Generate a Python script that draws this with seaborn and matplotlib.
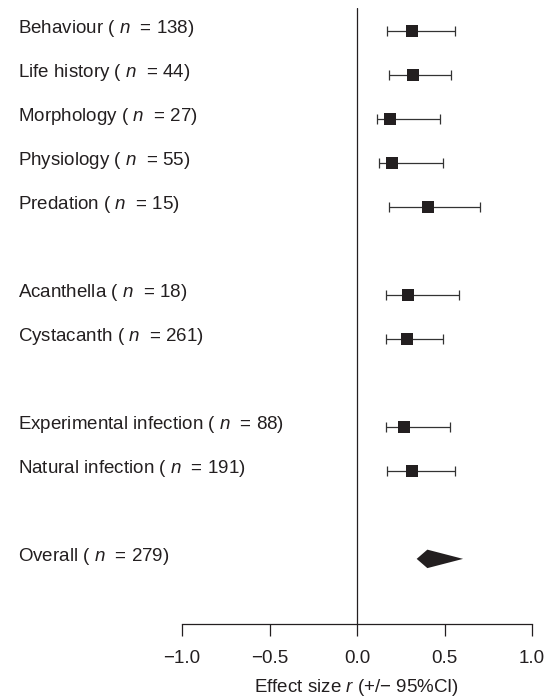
import numpy as np
import pandas as pd
import matplotlib
matplotlib.use("Agg")
import matplotlib.pyplot as plt
import seaborn as sns
from matplotlib.transforms import blended_transform_factory

# moderator levels, grouped (trait type / parasite stage / infection type)
names = ["Behaviour", "Life history", "Morphology", "Physiology", "Predation",
         "Acanthella", "Cystacanth",
         "Experimental infection", "Natural infection"]
group = [0, 0, 0, 0, 0, 1, 1, 2, 2]
n_obs = [138, 44, 27, 55, 15, 18, 261, 88, 191]
effect = [0.316, 0.322, 0.190, 0.202, 0.408, 0.293, 0.288, 0.270, 0.316]
ci_low = [0.171, 0.183, 0.112, 0.124, 0.183, 0.164, 0.164, 0.164, 0.171]
ci_high = [0.558, 0.535, 0.474, 0.491, 0.703, 0.585, 0.491, 0.530, 0.558]

overall_n = 279
overall_effect = 0.402
overall_low = 0.341
overall_high = 0.606

xticks = [-1.0, -0.5, 0.0, 0.5, 1.0]
xtick_labels = ["\u22121.0", "\u22120.5", "0.0", "0.5", "1.0"]

sns.set_theme(style="white")
plt.rcParams["font.family"] = ["Liberation Sans", "DejaVu Sans"]
plt.rcParams["mathtext.fontset"] = "custom"
plt.rcParams["mathtext.rm"] = "Liberation Sans"
plt.rcParams["mathtext.it"] = "Liberation Sans:italic"

ink = "#231f20"
fs = 13.5

df = pd.DataFrame({"name": names, "group": group, "n": n_obs,
                   "effect": effect, "lo": ci_low, "hi": ci_high})
# one empty row between groups
df["row"] = np.arange(len(df)) + df["group"]
overall_row = df["row"].max() + 2

fig = plt.figure(figsize=(5.54, 6.99), dpi=100)
ax = fig.add_axes([182 / 554, 1 - 624 / 699, 350 / 554, (624 - 8) / 699])

ax.errorbar(df["effect"], df["row"],
            xerr=[df["effect"] - df["lo"], df["hi"] - df["effect"]],
            fmt="none", ecolor="#333333", elinewidth=0.9,
            capsize=3.3, capthick=0.9, zorder=2)
sns.scatterplot(data=df, x="effect", y="row", marker="s", s=66,
                color=ink, edgecolor=ink, linewidth=0, ax=ax, zorder=3,
                legend=False)

# summary diamond
h = 0.21
ax.fill([overall_low, overall_effect, overall_high, overall_effect],
        [overall_row, overall_row - h, overall_row, overall_row + h],
        color=ink, lw=0, zorder=3)

ax.axvline(0, color=ink, lw=0.9, zorder=1)

ax.set_xlim(-1, 1)
ax.set_ylim(overall_row + 1.48, -0.52)
ax.set_yticks([])
ax.set_xticks(xticks)
ax.set_xticklabels(xtick_labels)
ax.set_xlabel("Effect size $r$ (+/\u2212 95%CI)", fontsize=fs, color=ink, labelpad=7)
ax.set_ylabel("")

for side in ["left", "top", "right"]:
    ax.spines[side].set_visible(False)
ax.spines["bottom"].set_color(ink)
ax.spines["bottom"].set_linewidth(0.9)
ax.tick_params(axis="x", bottom=True, direction="out", length=8.6, width=0.9,
               color=ink, pad=10, labelsize=fs, labelcolor=ink)

trans = blended_transform_factory(fig.transFigure, ax.transData)
for _, r in df.iterrows():
    ax.text(18 / 554, r["row"] + 0.05, f"{r['name']} ( $n$  = {r['n']})",
            transform=trans, ha="left", va="baseline", fontsize=fs, color=ink)
ax.text(18 / 554, overall_row + 0.05, f"Overall ( $n$  = {overall_n})",
        transform=trans, ha="left", va="baseline", fontsize=fs, color=ink)

fig.savefig("out.png", dpi=100)
